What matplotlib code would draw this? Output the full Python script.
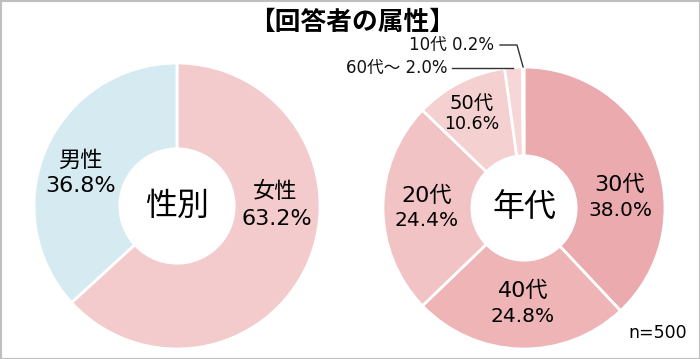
import numpy as np
import matplotlib
matplotlib.use("Agg")
import matplotlib.pyplot as plt
from matplotlib.patches import Rectangle

plt.rcParams["font.family"] = ["DejaVu Sans", "Noto Sans CJK JP"]

W, H = 700, 359

# ── data ──────────────────────────────────────────────────────────────────────
TITLE = "【回答者の属性】"
N_LABEL = "n=500"

GENDER_LABELS = ["女性", "男性"]
GENDER_VALUES = [63.2, 36.8]
GENDER_COLORS = ["#F4CBCC", "#D5EAF1"]

AGE_LABELS = ["30代", "40代", "20代", "50代", "60代～", "10代"]
AGE_VALUES = [38.0, 24.8, 24.4, 10.6, 2.0, 0.2]
AGE_COLORS = ["#EBAAAD", "#EEB4B6", "#F2C3C4", "#F5D0D0", "#F6D6D6", "#EFB8BA"]


def py(y):
    """pixel row (top origin) -> data y"""
    return H - y


fig = plt.figure(figsize=(W / 100, H / 100), dpi=100)
ax = fig.add_axes([0, 0, 1, 1])

# ── left donut: gender ────────────────────────────────────────────────────────
c1, r1 = (177, py(206)), 143
ax.pie(GENDER_VALUES, colors=GENDER_COLORS, center=c1, radius=r1,
       startangle=90, counterclock=False,
       wedgeprops=dict(width=r1 * 0.60, edgecolor="white", linewidth=2))

ax.text(80, py(161), GENDER_LABELS[1], ha="center", va="center", fontsize=16)
ax.text(81, py(186), f"{GENDER_VALUES[1]:.1f}%", ha="center", va="center", fontsize=16)
ax.text(275, py(191), GENDER_LABELS[0], ha="center", va="center", fontsize=16)
ax.text(277, py(219), f"{GENDER_VALUES[0]:.1f}%", ha="center", va="center", fontsize=16)
ax.text(c1[0], c1[1], "性別", ha="center", va="center", fontsize=23)

# ── right donut: age ──────────────────────────────────────────────────────────
c2, r2 = (524, py(208)), 141
ax.pie(AGE_VALUES, colors=AGE_COLORS, center=c2, radius=r2,
       startangle=90, counterclock=False,
       wedgeprops=dict(width=r2 * 0.63, edgecolor="white", linewidth=2))

inside = {  # label index -> (x, y1, y2, size1, size2)
    0: (620, 185, 210, 16, 14.5),
    1: (523, 291, 316, 16, 14.5),
    2: (427, 196, 220, 16, 14.5),
    3: (472, 103, 124, 14, 12.5),
}
for i, (x, y1, y2, s1, s2) in inside.items():
    ax.text(x, py(y1), AGE_LABELS[i], ha="center", va="center", fontsize=s1)
    ax.text(x, py(y2), f"{AGE_VALUES[i]:.1f}%", ha="center", va="center", fontsize=s2)
ax.text(c2[0], c2[1], "年代", ha="center", va="center", fontsize=23)

# callouts for the thin slices, anchored at each slice's outer edge
cum = np.cumsum([0] + AGE_VALUES)
mid = 90 - (cum[:-1] + np.array(AGE_VALUES) / 2) * 3.6
ang = np.deg2rad(mid)
ex = c2[0] + r2 * np.cos(ang)
ey = c2[1] + r2 * np.sin(ang)

# 10代
i = 5
ax.plot([500, 517, ex[i]], [py(45), py(45), ey[i]], color="#333333", lw=1)
ax.text(494, py(45), f"{AGE_LABELS[i]} {AGE_VALUES[i]:.1f}%", ha="right", va="center",
        fontsize=12, color="#111111")
# 60代～
i = 4
ax.plot([452, ex[i]], [py(68), py(68)], color="#333333", lw=1)
ax.text(447, py(68), f"{AGE_LABELS[i]} {AGE_VALUES[i]:.1f}%", ha="right", va="center",
        fontsize=12, color="#111111")

# ── title, n, frame ───────────────────────────────────────────────────────────
ax.text(352, py(23), TITLE, ha="center", va="center", fontsize=18.5, fontweight="bold")
ax.text(687, py(333), N_LABEL, ha="right", va="center", fontsize=12.5)

ax.add_patch(Rectangle((0.5, 0.5), W - 1, H - 1, fill=False,
                       edgecolor="#BFBFBF", linewidth=1.5))

ax.set_xlim(0, W)
ax.set_ylim(0, H)
ax.set_aspect("equal")
ax.axis("off")

plt.savefig("out.png", dpi=100)
plt.close()
